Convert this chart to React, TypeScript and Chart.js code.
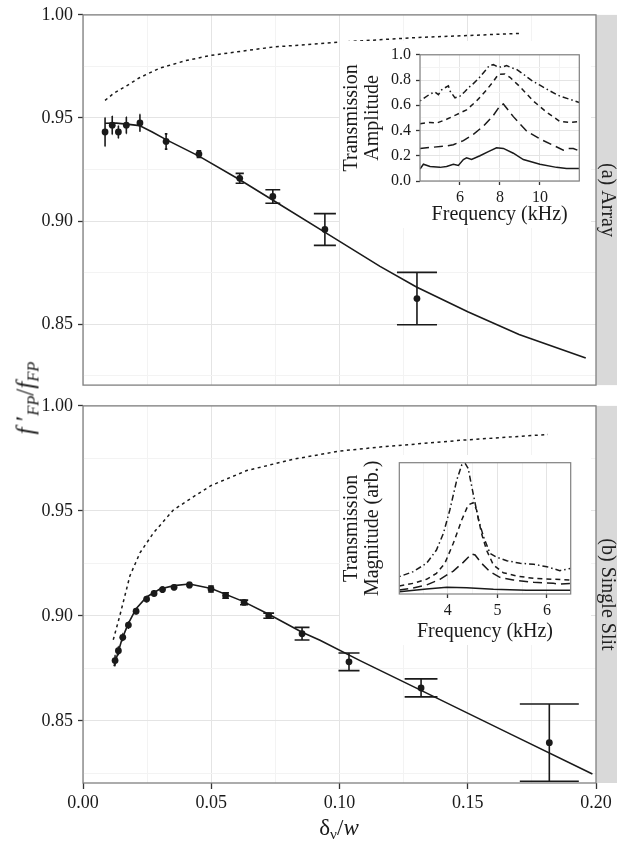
import React, { useEffect, useRef } from 'react';
import { Chart, registerables } from 'chart.js';

Chart.register(...registerables);

const SERIF = '"Liberation Serif", "Times New Roman", serif';
const INK = '#1a1a1a';

// ---------------- main panel (a) Array ----------------
const arrayX = [0.0086, 0.0114, 0.0138, 0.0169, 0.0222, 0.0324, 0.0452, 0.0611, 0.074, 0.0943, 0.1302];
const arrayY = [0.9432, 0.9465, 0.9432, 0.9465, 0.9476, 0.9386, 0.9325, 0.9207, 0.9119, 0.8959, 0.8624];
const arrayErr = [0.007, 0.0045, 0.003, 0.004, 0.004, 0.0037, 0.0016, 0.0024, 0.0033, 0.0077, 0.0127];
const arrayCap = [0.00003, 0.00006, 0.00009, 0.00013, 0.00022, 0.0005, 0.0009, 0.0016, 0.0029, 0.0043, 0.0078];

const arrayFitX = [0.0086, 0.013, 0.017, 0.022, 0.027, 0.0324, 0.0452, 0.0611, 0.0755, 0.095, 0.1158, 0.13, 0.15, 0.17, 0.196];
const arrayFitY = [0.9474, 0.9475, 0.947, 0.9463, 0.9432, 0.9395, 0.9315, 0.92, 0.909, 0.894, 0.878, 0.868, 0.856, 0.845, 0.8335];

const arrayIdealX = [0.0086, 0.012, 0.017, 0.022, 0.03, 0.04, 0.05, 0.074, 0.1, 0.13, 0.17];
const arrayIdealY = [0.9585, 0.962, 0.9656, 0.9695, 0.9742, 0.9778, 0.9804, 0.9844, 0.9868, 0.989, 0.991];

// ---------------- main panel (b) Single Slit ----------------
const slitX = [0.0125, 0.0138, 0.0155, 0.0177, 0.0207, 0.0248, 0.0277, 0.031, 0.0355, 0.0415, 0.0499, 0.0556, 0.0628, 0.0724, 0.0854, 0.1037, 0.1318, 0.1818];
const slitY = [0.8787, 0.8834, 0.8898, 0.8956, 0.9022, 0.908, 0.9107, 0.9125, 0.9136, 0.9147, 0.9128, 0.9097, 0.9064, 0.9001, 0.8915, 0.8781, 0.8657, 0.8396];
const slitErr = [0.0025, 0.002, 0.0018, 0.0015, 0.0012, 0.0012, 0.0012, 0.0012, 0.001, 0.0012, 0.0014, 0.0013, 0.0011, 0.0012, 0.003, 0.0042, 0.0043, 0.0184];
const slitCap = [0.0001, 0.0001, 0.0001, 0.0002, 0.0002, 0.0003, 0.0004, 0.0005, 0.0006, 0.0008, 0.0011, 0.0013, 0.0016, 0.0021, 0.0029, 0.0041, 0.0064, 0.0115];

const slitFitX = [0.0121, 0.0153, 0.0177, 0.0207, 0.0248, 0.03, 0.0355, 0.0415, 0.05, 0.0624, 0.0724, 0.0854, 0.0924, 0.108, 0.1318, 0.1665, 0.1986];
const slitFitY = [0.876, 0.8893, 0.8964, 0.9034, 0.909, 0.9128, 0.9144, 0.9152, 0.913, 0.9069, 0.9008, 0.8922, 0.8884, 0.8787, 0.8645, 0.8438, 0.8247];

const slitIdealX = [0.0118, 0.0144, 0.0183, 0.0222, 0.0274, 0.0352, 0.043, 0.05, 0.0638, 0.082, 0.1, 0.1158, 0.147, 0.1813];
const slitIdealY = [0.8886, 0.9003, 0.9191, 0.93, 0.9394, 0.9504, 0.9567, 0.9621, 0.9692, 0.9746, 0.9785, 0.9804, 0.9836, 0.9864];

// ---------------- inset (a): transmission amplitude vs frequency ----------------
const insetASolidF = [4.0, 4.17, 4.5, 5.0, 5.33, 5.67, 5.92, 6.17, 6.33, 6.58, 7.0, 7.42, 7.83, 8.17, 8.67, 9.17, 10.0, 10.83, 11.33, 11.97];
const insetASolidA = [0.095, 0.133, 0.115, 0.108, 0.115, 0.133, 0.123, 0.17, 0.183, 0.17, 0.2, 0.233, 0.263, 0.258, 0.22, 0.17, 0.133, 0.108, 0.1, 0.1];
const insetALongF = [4.0, 4.67, 5.33, 5.67, 6.17, 6.67, 7.17, 7.67, 8.0, 8.17, 8.67, 9.33, 10.0, 10.67, 11.17, 11.42, 11.67, 11.97];
const insetALongA = [0.258, 0.268, 0.278, 0.288, 0.32, 0.37, 0.434, 0.52, 0.596, 0.61, 0.51, 0.396, 0.333, 0.283, 0.245, 0.258, 0.258, 0.238];
const insetADashF = [4.0, 4.5, 4.83, 5.33, 5.83, 6.33, 6.83, 7.33, 7.67, 7.92, 8.25, 8.5, 9.0, 9.67, 10.33, 11.0, 11.5, 11.97];
const insetADashA = [0.454, 0.464, 0.459, 0.489, 0.526, 0.564, 0.634, 0.722, 0.789, 0.845, 0.847, 0.822, 0.747, 0.634, 0.546, 0.471, 0.464, 0.471];
const insetADotF = [4.0, 4.5, 4.75, 4.92, 5.08, 5.25, 5.42, 5.5, 5.75, 6.0, 6.25, 6.42, 6.67, 6.92, 7.25, 7.47, 7.67, 7.92, 8.17, 8.33, 8.58, 8.83, 9.17, 9.58, 10.0, 10.5, 11.0, 11.5, 11.97];
const insetADotA = [0.634, 0.689, 0.704, 0.684, 0.722, 0.739, 0.754, 0.714, 0.659, 0.672, 0.709, 0.739, 0.772, 0.81, 0.872, 0.915, 0.922, 0.902, 0.905, 0.915, 0.897, 0.885, 0.847, 0.797, 0.759, 0.714, 0.672, 0.647, 0.622];

// ---------------- inset (b): transmission magnitude vs frequency ----------------
const insetBSolidF = [3.02, 3.57, 3.98, 4.38, 4.92, 5.59, 6.48];
const insetBSolidA = [0.018, 0.038, 0.051, 0.048, 0.036, 0.028, 0.028];
const insetBLongF = [3.02, 3.3, 3.57, 3.84, 4.11, 4.31, 4.48, 4.55, 4.68, 4.85, 5.05, 5.32, 5.73, 6.13, 6.26, 6.48];
const insetBLongA = [0.03, 0.046, 0.069, 0.112, 0.175, 0.241, 0.305, 0.297, 0.234, 0.17, 0.127, 0.107, 0.089, 0.081, 0.076, 0.081];
const insetBDashF = [3.02, 3.3, 3.57, 3.77, 3.94, 4.11, 4.28, 4.41, 4.51, 4.58, 4.68, 4.78, 4.92, 5.12, 5.39, 5.73, 6.13, 6.48];
const insetBDashA = [0.061, 0.081, 0.112, 0.157, 0.234, 0.386, 0.563, 0.678, 0.695, 0.64, 0.462, 0.335, 0.221, 0.162, 0.137, 0.119, 0.112, 0.107];
const insetBDotF = [3.02, 3.3, 3.57, 3.77, 3.91, 4.04, 4.18, 4.28, 4.35, 4.41, 4.51, 4.62, 4.72, 4.85, 4.99, 5.19, 5.46, 5.73, 6.0, 6.26, 6.48];
const insetBDotA = [0.132, 0.17, 0.234, 0.335, 0.462, 0.64, 0.868, 0.982, 0.995, 0.957, 0.766, 0.563, 0.437, 0.31, 0.279, 0.254, 0.234, 0.226, 0.208, 0.178, 0.195];

// ---------------- helpers ----------------
const near = (v: number, step: number) => {
  const r = v / step;
  return Math.abs(r - Math.round(r)) < 1e-6;
};
const pts = (xs: number[], ys: number[]) => xs.map((x, i) => ({ x, y: ys[i] }));

const GRID_MAJOR = '#e4e4e4';
const GRID_MINOR = '#f3f3f3';
const BORDER = '#808080';

const errorBarPlugin = (xs: number[], ys: number[], errs: number[], caps: number[]) => ({
  id: 'errbars',
  beforeDatasetsDraw(chart: any) {
    const { ctx } = chart;
    const xS = chart.scales.x;
    const yS = chart.scales.y;
    ctx.save();
    ctx.strokeStyle = INK;
    ctx.lineWidth = 1.6;
    ctx.beginPath();
    xs.forEach((x, i) => {
      const px = xS.getPixelForValue(x);
      const y1 = yS.getPixelForValue(ys[i] - errs[i]);
      const y2 = yS.getPixelForValue(ys[i] + errs[i]);
      const l = xS.getPixelForValue(x - caps[i]);
      const r = xS.getPixelForValue(x + caps[i]);
      ctx.moveTo(px, y1);
      ctx.lineTo(px, y2);
      ctx.moveTo(l, y1);
      ctx.lineTo(r, y1);
      ctx.moveTo(l, y2);
      ctx.lineTo(r, y2);
    });
    ctx.stroke();
    ctx.restore();
  },
});

const panelPlugin = (label: string) => ({
  id: 'panel',
  beforeDraw(chart: any) {
    const { ctx, chartArea: a } = chart;
    ctx.save();
    ctx.fillStyle = '#ffffff';
    ctx.fillRect(a.left, a.top, a.right - a.left, a.bottom - a.top);
    ctx.restore();
  },
  afterDraw(chart: any) {
    const { ctx, chartArea: a } = chart;
    ctx.save();
    ctx.fillStyle = '#d9d9d9';
    ctx.fillRect(a.right, a.top, chart.width - a.right, a.bottom - a.top);
    ctx.strokeStyle = BORDER;
    ctx.lineWidth = 1.3;
    ctx.strokeRect(a.left, a.top, a.right - a.left, a.bottom - a.top);
    ctx.translate(a.right + (chart.width - a.right) / 2 + 1, (a.top + a.bottom) / 2);
    ctx.rotate(Math.PI / 2);
    ctx.fillStyle = '#222222';
    ctx.font = `20px ${SERIF}`;
    ctx.textAlign = 'center';
    ctx.textBaseline = 'middle';
    ctx.fillText(label, 0, 0);
    ctx.restore();
  },
});

const insetPlugin = {
  id: 'insetbg',
  beforeDraw(chart: any) {
    const { ctx } = chart;
    ctx.save();
    ctx.fillStyle = '#ffffff';
    ctx.fillRect(0, 0, chart.width, chart.height);
    ctx.restore();
  },
  afterDraw(chart: any) {
    const { ctx, chartArea: a } = chart;
    ctx.save();
    ctx.strokeStyle = BORDER;
    ctx.lineWidth = 1.2;
    ctx.strokeRect(a.left, a.top, a.right - a.left, a.bottom - a.top);
    ctx.restore();
  },
};

const gridCol = (isMajor: (v: number) => boolean) => (c: any) =>
  c.tick && isMajor(c.tick.value) ? GRID_MAJOR : GRID_MINOR;
const tickCol = (isMajor: (v: number) => boolean) => (c: any) =>
  c.tick && isMajor(c.tick.value) ? '#333333' : 'rgba(0,0,0,0)';

const mainMajor = (v: number) => near(v, 0.05);

function mainConfig(opts: {
  label: string;
  showX: boolean;
  xs: number[]; ys: number[]; errs: number[]; caps: number[];
  fitX: number[]; fitY: number[];
  idealX: number[]; idealY: number[];
  padTop: number;
  xHeight: number;
}): any {
  return {
    type: 'scatter',
    data: {
      datasets: [
        {
          data: pts(opts.idealX, opts.idealY),
          showLine: true, pointRadius: 0, borderColor: INK, borderWidth: 1.5,
          borderDash: [3, 3.5], tension: 0,
        },
        {
          data: pts(opts.fitX, opts.fitY),
          showLine: true, pointRadius: 0, borderColor: INK, borderWidth: 1.6, tension: 0,
        },
        {
          data: pts(opts.xs, opts.ys),
          showLine: false, pointRadius: 3.4, pointBackgroundColor: INK, pointBorderWidth: 0,
        },
      ],
    },
    options: {
      responsive: false,
      animation: false,
      devicePixelRatio: 1,
      layout: { padding: { left: 0, right: 21, top: opts.padTop, bottom: 0 } },
      plugins: { legend: { display: false }, tooltip: { enabled: false } },
      scales: {
        x: {
          type: 'linear', min: 0, max: 0.2,
          afterFit: (s: any) => { s.height = opts.xHeight; },
          border: { display: false },
          grid: {
            color: gridCol(mainMajor), lineWidth: 1,
            drawTicks: opts.showX, tickLength: 6, tickColor: tickCol(mainMajor), tickWidth: 1.3,
          },
          ticks: {
            display: opts.showX, stepSize: 0.025, autoSkip: false, maxRotation: 0, minRotation: 0,
            includeBounds: false, padding: 4, color: INK,
            font: { family: SERIF, size: 18, lineHeight: 1.1 },
            callback: (v: number) => (mainMajor(v) ? v.toFixed(2) : ''),
          },
        },
        y: {
          type: 'linear', min: 0.8204, max: 1.0,
          afterFit: (s: any) => { s.width = 83; },
          border: { display: false },
          grid: {
            color: gridCol(mainMajor), lineWidth: 1,
            drawTicks: true, tickLength: 5, tickColor: tickCol(mainMajor), tickWidth: 1.3,
          },
          ticks: {
            stepSize: 0.025, autoSkip: false, includeBounds: false, padding: 5, color: INK,
            font: { family: SERIF, size: 18, lineHeight: 1.1 },
            callback: (v: number) => (mainMajor(v) ? v.toFixed(2) : ''),
          },
        },
      },
    },
    plugins: [panelPlugin(opts.label), errorBarPlugin(opts.xs, opts.ys, opts.errs, opts.caps)],
  };
}

const lineSet = (xs: number[], ys: number[], dash: number[]) => ({
  data: pts(xs, ys),
  showLine: true, pointRadius: 0, borderColor: INK, borderWidth: 1.5,
  borderDash: dash, tension: 0,
});

const DASH_SOLID: number[] = [];
const DASH_LONG = [9, 5];
const DASH_MED = [5, 4];
const DASH_DOT = [1.5, 3, 6, 3];

const titleFont = { family: SERIF, size: 20, lineHeight: 1.05 };

function insetAConfig(): any {
  const xMajor = (v: number) => near(v, 2) && v > 4.5 && v < 11.5;
  const yMajor = (v: number) => near(v, 0.2);
  return {
    type: 'scatter',
    data: {
      datasets: [
        lineSet(insetASolidF, insetASolidA, DASH_SOLID),
        lineSet(insetALongF, insetALongA, DASH_LONG),
        lineSet(insetADashF, insetADashA, DASH_MED),
        lineSet(insetADotF, insetADotA, DASH_DOT),
      ],
    },
    options: {
      responsive: false,
      animation: false,
      devicePixelRatio: 1,
      layout: { padding: { left: 0, right: 11.7, top: 7.3, bottom: 0 } },
      plugins: { legend: { display: false }, tooltip: { enabled: false } },
      scales: {
        x: {
          type: 'linear', min: 4, max: 11.97,
          afterFit: (s: any) => { s.height = 47; },
          border: { display: false },
          grid: { color: gridCol(xMajor), tickLength: 4, tickColor: tickCol(xMajor), tickWidth: 1.3 },
          ticks: {
            stepSize: 1, autoSkip: false, includeBounds: false, maxRotation: 0, padding: 4, color: INK,
            font: { family: SERIF, size: 16, lineHeight: 1.1 },
            callback: (v: number) => (xMajor(v) ? String(Math.round(v)) : ''),
          },
          title: {
            display: true, text: 'Frequency (kHz)', color: INK, font: titleFont,
            padding: { top: 0, bottom: 2.5 },
          },
        },
        y: {
          type: 'linear', min: 0, max: 1,
          afterFit: (s: any) => { s.width = 80; },
          border: { display: false },
          grid: { color: gridCol(yMajor), tickLength: 4, tickColor: tickCol(yMajor), tickWidth: 1.3 },
          ticks: {
            stepSize: 0.1, autoSkip: false, includeBounds: false, padding: 5, color: INK,
            font: { family: SERIF, size: 16, lineHeight: 1.1 },
            callback: (v: number) => (yMajor(v) ? v.toFixed(1) : ''),
          },
          title: {
            display: true, text: ['Transmission', 'Amplitude'], color: INK, font: titleFont,
            padding: { top: 1, bottom: 0 },
          },
        },
      },
    },
    plugins: [insetPlugin],
  };
}

function insetBConfig(): any {
  const xMajor = (v: number) => near(v, 1);
  return {
    type: 'scatter',
    data: {
      datasets: [
        lineSet(insetBSolidF, insetBSolidA, DASH_SOLID),
        lineSet(insetBLongF, insetBLongA, DASH_LONG),
        lineSet(insetBDashF, insetBDashA, DASH_MED),
        lineSet(insetBDotF, insetBDotA, DASH_DOT),
      ],
    },
    options: {
      responsive: false,
      animation: false,
      devicePixelRatio: 1,
      layout: { padding: { left: 0, right: 20.3, top: 7.7, bottom: 0 } },
      plugins: { legend: { display: false }, tooltip: { enabled: false } },
      scales: {
        x: {
          type: 'linear', min: 3.02, max: 6.48,
          afterFit: (s: any) => { s.height = 51; },
          border: { display: false },
          grid: { color: gridCol(xMajor), tickLength: 4, tickColor: tickCol(xMajor), tickWidth: 1.3 },
          ticks: {
            stepSize: 0.5, autoSkip: false, includeBounds: false, maxRotation: 0, padding: 4, color: INK,
            font: { family: SERIF, size: 16, lineHeight: 1.1 },
            callback: (v: number) => (xMajor(v) ? String(Math.round(v)) : ''),
          },
          title: {
            display: true, text: 'Frequency (kHz)', color: INK, font: titleFont,
            padding: { top: 0, bottom: 2.5 },
          },
        },
        y: {
          type: 'linear', min: 0, max: 1,
          afterFit: (s: any) => { s.width = 59.3; },
          border: { display: false },
          grid: { display: false },
          ticks: { display: false },
          title: {
            display: true, text: ['Transmission', 'Magnitude (arb.)'], color: INK, font: titleFont,
            padding: { top: 1, bottom: 0 },
          },
        },
      },
    },
    plugins: [insetPlugin],
  };
}

function ChartCanvas(props: { make: () => any; left: number; top: number; w: number; h: number }) {
  const ref = useRef<HTMLCanvasElement | null>(null);
  useEffect(() => {
    if (!ref.current) return;
    const chart = new Chart(ref.current, props.make());
    return () => chart.destroy();
  }, []);
  return (
    <canvas
      ref={ref}
      width={props.w}
      height={props.h}
      style={{ position: 'absolute', left: props.left, top: props.top, width: props.w, height: props.h }}
    />
  );
}

const subStyle: React.CSSProperties = { fontSize: '0.66em', verticalAlign: '-0.3em', lineHeight: 0 };

export default function App() {
  return (
    <div
      style={{
        position: 'absolute', left: 0, top: 0, width: 617, height: 841,
        overflow: 'hidden', background: '#ffffff',
      }}
    >
      <ChartCanvas
        left={0} top={0} w={617} h={400}
        make={() =>
          mainConfig({
            label: '(a) Array', showX: false,
            xs: arrayX, ys: arrayY, errs: arrayErr, caps: arrayCap,
            fitX: arrayFitX, fitY: arrayFitY, idealX: arrayIdealX, idealY: arrayIdealY,
            padTop: 10, xHeight: 8,
          })
        }
      />
      <ChartCanvas
        left={0} top={391} w={617} h={450}
        make={() =>
          mainConfig({
            label: '(b) Single Slit', showX: true,
            xs: slitX, ys: slitY, errs: slitErr, caps: slitCap,
            fitX: slitFitX, fitY: slitFitY, idealX: slitIdealX, idealY: slitIdealY,
            padTop: 10, xHeight: 58,
          })
        }
      />
      <ChartCanvas left={340} top={41} w={251} h={187} make={insetAConfig} />
      <ChartCanvas left={340} top={455} w={251} h={190} make={insetBConfig} />
      <div
        style={{
          position: 'absolute', left: 25, top: 398,
          transform: 'translate(-50%, -50%) rotate(-90deg)',
          fontFamily: SERIF, fontSize: 25, whiteSpace: 'nowrap', color: INK, lineHeight: 1,
        }}
      >
        <i>f</i> ′<sub style={subStyle}><i>FP</i></sub>/<i>f</i><sub style={subStyle}><i>FP</i></sub>
      </div>
      <div
        style={{
          position: 'absolute', left: 339, top: 827,
          transform: 'translate(-50%, -50%)',
          fontFamily: SERIF, fontSize: 23, whiteSpace: 'nowrap', color: INK, lineHeight: 1,
        }}
      >
        δ<sub style={subStyle}>ν</sub>/<i>w</i>
      </div>
    </div>
  );
}
